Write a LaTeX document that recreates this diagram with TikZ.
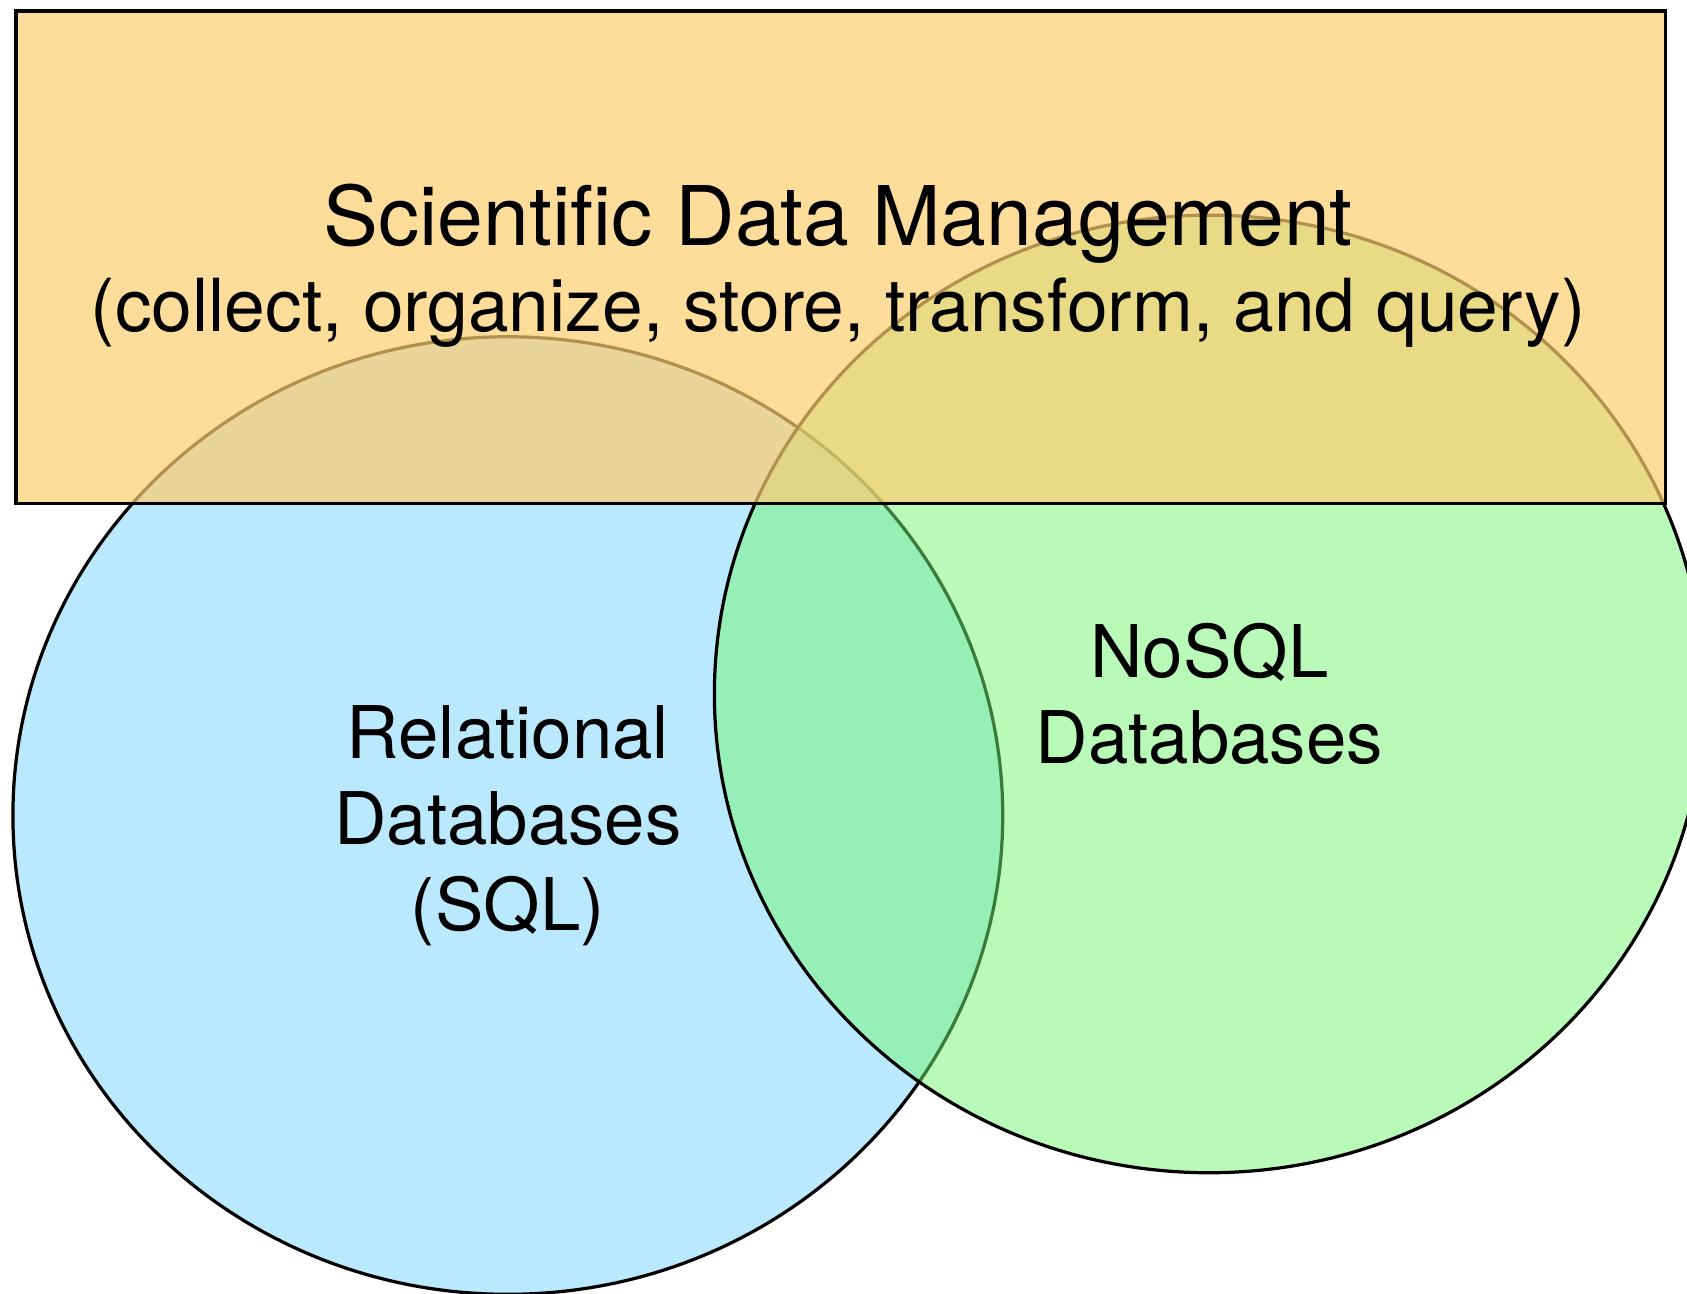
\documentclass[tikz,border=0pt]{standalone}
\usepackage{fontspec}
\setmainfont{TeX Gyre Heros}
\definecolor{sqlblue}{RGB}{186,232,252}
\definecolor{nosqlgreen}{RGB}{117,247,117}
\definecolor{sdmorange}{RGB}{254,206,112}
\tikzset{
  outline/.style={draw=black, line width=3pt},
  titletext/.style={anchor=base, inner sep=0pt, font=\fontsize{76.5}{80}\selectfont},
  subtext/.style={anchor=base, inner sep=0pt, font=\fontsize{68}{80}\selectfont},
  labeltext/.style={anchor=base, inner sep=0pt, font=\fontsize{67.5}{80}\selectfont},
}
\begin{document}
\begin{tikzpicture}[x=1pt, y=-1pt]
  \useasboundingbox (0,0) rectangle (1568,1202);
  \clip (0,0) rectangle (1568,1202);
  \fill[white] (0,0) rectangle (1568,1202);

  % relational databases
  \path[outline, fill=sqlblue] (472,758) ellipse [x radius=460, y radius=445];
  % NoSQL databases, its fill half transparent over the first set
  \fill[nosqlgreen, fill opacity=0.5] (1124,645) ellipse [x radius=460, y radius=445];
  \draw[outline] (1124,645) ellipse [x radius=460, y radius=445];

  % scientific data management band
  \fill[sdmorange, fill opacity=0.7] (15,10) rectangle (1548,468);
  \draw[black, line width=3.5pt] (15,10) rectangle (1548,468);

  \node[titletext] (sdm) at (779,228) {Scientific Data Management};
  \node[subtext] (sdmsub) at (779,308) {(collect, organize, store, transform, and query)};

  \node[labeltext] (rel1) at (472,705) {Relational};
  \node[labeltext] (rel2) at (472,785) {Databases};
  \node[labeltext] (rel3) at (472,865) {(SQL)};

  \node[labeltext] (nosql1) at (1124,630) {NoSQL};
  \node[labeltext] (nosql2) at (1124,710) {Databases};
\end{tikzpicture}
\end{document}
